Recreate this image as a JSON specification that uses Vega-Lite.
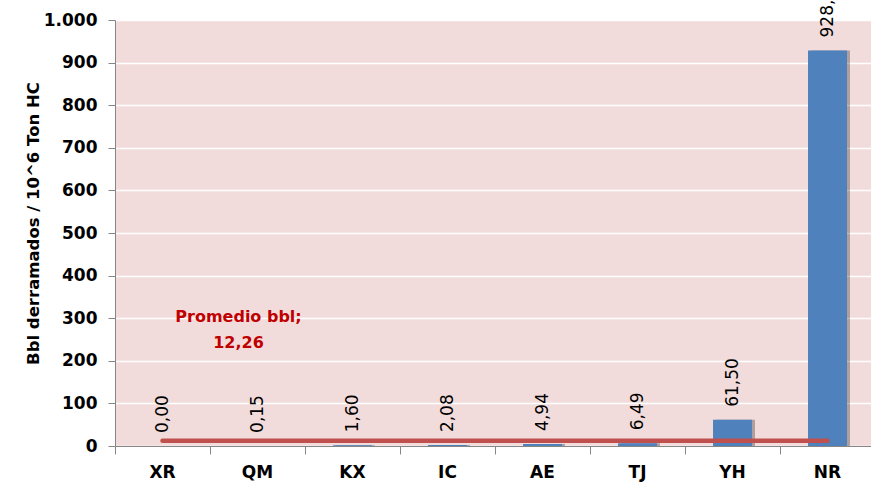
{
  "$schema": "https://vega.github.io/schema/vega-lite/v6.json",
  "width": 756,
  "height": 426,
  "autosize": "none",
  "padding": {"left": 115, "top": 20, "right": 0, "bottom": 39},
  "background": "white",
  "config": {
    "view": {"fill": "#F2DCDB", "stroke": null},
    "font": "DejaVu Sans"
  },
  "data": {
    "values": [
      {"cat": "XR", "value": 0, "label": "0,00", "promedio": 12.26},
      {"cat": "QM", "value": 0.15, "label": "0,15", "promedio": 12.26},
      {"cat": "KX", "value": 1.6, "label": "1,60", "promedio": 12.26},
      {"cat": "IC", "value": 2.08, "label": "2,08", "promedio": 12.26},
      {"cat": "AE", "value": 4.94, "label": "4,94", "promedio": 12.26},
      {"cat": "TJ", "value": 6.49, "label": "6,49", "promedio": 12.26},
      {"cat": "YH", "value": 61.5, "label": "61,50", "promedio": 12.26},
      {"cat": "NR", "value": 928.5, "label": "928,", "promedio": 12.26}
    ]
  },
  "encoding": {
    "x": {
      "field": "cat",
      "type": "nominal",
      "sort": null,
      "scale": {
        "domain": ["XR", "QM", "KX", "IC", "AE", "TJ", "YH", "NR"],
        "range": [0, 760],
        "paddingInner": 0.59,
        "paddingOuter": 0.295
      },
      "axis": {
        "title": null,
        "labelAngle": 0,
        "labelFontSize": 17,
        "labelFontWeight": "bold",
        "labelColor": "black",
        "labelPadding": 10,
        "bandPosition": -0.7195,
        "tickSize": 8,
        "tickColor": "#868686",
        "domainColor": "#868686",
        "grid": false
      }
    }
  },
  "layer": [
    {
      "mark": {"type": "bar", "color": "#000000", "opacity": 0.28, "xOffset": 3},
      "encoding": {
        "y": {"field": "value", "type": "quantitative", "scale": {"domain": [0, 1000], "nice": false}}
      }
    },
    {
      "mark": {"type": "bar", "color": "#4F81BD"},
      "encoding": {
        "y": {
          "field": "value",
          "type": "quantitative",
          "scale": {"domain": [0, 1000], "nice": false},
          "axis": {
            "values": [0, 100, 200, 300, 400, 500, 600, 700, 800, 900, 1000],
            "labelExpr": "replace(format(datum.value, ','), ',', '.')",
            "labelFontSize": 17,
            "labelFontWeight": "bold",
            "labelColor": "black",
            "labelPadding": 11,
            "tickSize": 7,
            "tickColor": "#868686",
            "domainColor": "#868686",
            "grid": true,
            "gridColor": "white",
            "gridWidth": 1.5,
            "title": "Bbl derramados / 10^6 Ton HC",
            "titleFontSize": 16.5,
            "titleFontWeight": "bold",
            "titleColor": "black",
            "titleX": -77,
            "titleY": 203,
            "titleAlign": "center",
            "titleBaseline": "alphabetic",
            "titleAngle": 270
          }
        }
      }
    },
    {
      "mark": {"type": "text", "angle": 270, "align": "left", "baseline": "middle", "dx": 13, "fontSize": 17, "color": "black"},
      "encoding": {
        "y": {"field": "value", "type": "quantitative"},
        "text": {"field": "label"}
      }
    },
    {
      "mark": {"type": "line", "color": "#C0504D", "strokeWidth": 4.5, "strokeCap": "round"},
      "encoding": {
        "y": {"field": "promedio", "type": "quantitative"}
      }
    },
    {
      "data": {"values": [{"cat": "QM", "pos": 303, "txt": "Promedio bbl;\n12,26"}]},
      "mark": {"type": "text", "lineBreak": "\n", "lineHeight": 26, "align": "center", "baseline": "middle", "dx": -19, "fontSize": 16, "fontWeight": "bold", "color": "#C00000"},
      "encoding": {
        "y": {"field": "pos", "type": "quantitative"},
        "text": {"field": "txt"}
      }
    }
  ]
}
